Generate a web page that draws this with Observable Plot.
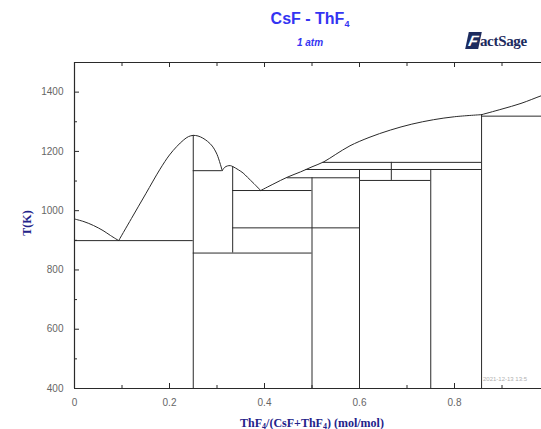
<!DOCTYPE html>
<html><head><meta charset="utf-8">
<script src="https://cdn.jsdelivr.net/npm/d3@7"></script>
<script src="https://cdn.jsdelivr.net/npm/@observablehq/plot@0.6"></script>
<style>
body{margin:0;background:#fff;width:541px;height:429px;overflow:hidden;position:relative;font-family:Arial,"Liberation Sans",sans-serif}
#chart{position:absolute;left:0;top:0}
.ov{position:absolute;white-space:nowrap}
#title{left:210px;width:200px;top:10px;text-align:center;font:bold 16px Arial,"Liberation Sans",sans-serif;color:#3434f2}
#title sub{font-size:9px;vertical-align:-3px}
#sub{left:210px;width:200px;top:37px;text-align:center;font:italic bold 10px Arial,"Liberation Sans",sans-serif;color:#3434f2}
#ylab{left:27px;top:223px;transform:translate(-50%,-50%) rotate(-90deg);font:bold 12px "Liberation Serif","Times New Roman",serif;color:#23238a}
#xlab{left:312px;top:423px;transform:translate(-50%,-50%);font:bold 12px "Liberation Serif","Times New Roman",serif;color:#23238a}
#xlab sub{font-size:8px;vertical-align:-2px}
#logo{left:467px;top:32px;font:bold 15px "Liberation Serif",serif;color:#1d2b5e;letter-spacing:-0.3px}
#logo .f{display:inline-block;background:#1d2b5e;color:#fff;padding:0 2px;transform:skewX(-12deg);font:bold italic 15px "Liberation Sans",sans-serif}
#stamp{left:483px;top:376px;font:6px Arial,sans-serif;color:#b0b0b0}
</style></head>
<body>
<div id="chart"></div>
<div class="ov" id="title">CsF - ThF<sub>4</sub></div>
<div class="ov" id="sub">1 atm</div>
<div class="ov" id="logo"><span class="f">F</span>actSage</div>
<div class="ov" id="ylab">T(K)</div>
<div class="ov" id="xlab">ThF<sub>4</sub>/(CsF+ThF<sub>4</sub>) (mol/mol)</div>
<div class="ov" id="stamp">2021-12-13 13:5</div>
<script>
// Liquidus branches (mole fraction ThF4, temperature K)
const branch1X = [0, 0.02, 0.04, 0.06, 0.076, 0.093];
const branch1T = [972, 963, 950, 933, 916, 899];
const branch2X = [0.093, 0.12, 0.15, 0.18, 0.2, 0.215, 0.23, 0.24, 0.25, 0.26, 0.27, 0.28, 0.29, 0.3, 0.311];
const branch2T = [899, 974, 1057, 1140, 1188, 1216, 1239, 1250, 1254, 1252, 1245, 1234, 1218, 1190, 1135];
const branch3X = [0.311, 0.316, 0.322, 0.328, 0.333, 0.345, 0.355, 0.364, 0.378, 0.392];
const branch3T = [1135, 1146, 1151, 1152, 1149, 1138, 1127, 1113, 1091, 1068];
const branch4X = [0.392, 0.42, 0.448, 0.476, 0.5, 0.525, 0.55, 0.58, 0.62, 0.665, 0.71, 0.756, 0.8, 0.857];
const branch4T = [1068, 1091, 1113, 1131, 1148, 1165, 1190, 1219, 1247, 1272, 1292, 1307, 1317, 1324];
const branch5X = [0.857, 0.9, 0.94, 0.983, 1.0];
const branch5T = [1324, 1343, 1362, 1388, 1397];

// Invariant (horizontal) lines
const invT  = [899, 1135, 857, 1068, 942, 1111, 1139, 1163, 1102, 1319];
const invX1 = [0, 0.25, 0.25, 0.333, 0.333, 0.448, 0.487, 0.523, 0.6, 0.857];
const invX2 = [0.25, 0.311, 0.5, 0.5, 0.6, 0.6, 0.857, 0.857, 0.75, 1];

// Compound (vertical) lines
const cmpX   = [0.25, 0.333, 0.5, 0.6, 0.667, 0.75, 0.857];
const cmpTop = [1254, 1149, 1111, 1139, 1163, 1139, 1324];
const cmpBot = [400, 857, 400, 400, 1102, 400, 400];

// Ticks (the label for 1 falls outside the visible picture)
const xMajor = [0, 0.2, 0.4, 0.6, 0.8, 1];
const xLabels = [0, 0.2, 0.4, 0.6, 0.8];
const xMinor = [0.1, 0.3, 0.5, 0.7, 0.9];
const yMajor = [400, 600, 800, 1000, 1200, 1400];
const yMinor = [500, 700, 900, 1100, 1300, 1500];

const branches = [[branch1X, branch1T], [branch2X, branch2T], [branch3X, branch3T], [branch4X, branch4T], [branch5X, branch5T]];
const liquidus = branches.flatMap(([xs, ts], b) => xs.map((x, i) => ({x, T: ts[i], b})));
const invariants = invT.map((T, i) => ({T, x1: invX1[i], x2: invX2[i]}));
const compounds = cmpX.map((x, i) => ({x, top: cmpTop[i], bot: cmpBot[i]}));

const ink = "#2a2a2a";
const chart = Plot.plot({
  width: 541, height: 429,
  marginLeft: 74, marginRight: 0, marginTop: 62, marginBottom: 41,
  x: {domain: [0, 1], range: [74, 549]},
  y: {domain: [400, 1500]},
  style: {fontFamily: 'Arial, "Liberation Sans", sans-serif', fontSize: "10px", color: "#666", background: "transparent"},
  marks: [
    Plot.axisX(xLabels, {anchor: "bottom", tickSize: 0, tickPadding: 10, tickFormat: d => String(d), label: null, fill: "#666"}),
    Plot.axisX(xMajor, {anchor: "bottom", tickSize: -5, fill: "none", label: null, stroke: ink}),
    Plot.axisX(xMinor, {anchor: "bottom", tickSize: -3, fill: "none", label: null, stroke: ink}),
    Plot.axisX(xMajor, {anchor: "top", tickSize: -4, fill: "none", label: null, stroke: ink}),
    Plot.axisX(xMinor, {anchor: "top", tickSize: -3, fill: "none", label: null, stroke: ink}),
    Plot.axisY(yMajor, {anchor: "left", tickSize: 0, tickPadding: 11, tickFormat: d => String(d), label: null, fill: "#666"}),
    Plot.axisY(yMajor, {anchor: "left", tickSize: -5, fill: "none", label: null, stroke: ink}),
    Plot.axisY(yMinor, {anchor: "left", tickSize: -3, fill: "none", label: null, stroke: ink}),
    Plot.ruleX([0], {stroke: ink, strokeWidth: 1.2}),
    Plot.ruleY([400, 1500], {stroke: ink, strokeWidth: 1.2}),
    Plot.ruleY(invariants, {y: "T", x1: "x1", x2: "x2", stroke: ink, strokeWidth: 1}),
    Plot.ruleX(compounds, {x: "x", y1: "bot", y2: "top", stroke: ink, strokeWidth: 1}),
    Plot.line(liquidus, {x: "x", y: "T", z: "b", curve: "catmull-rom", stroke: ink, strokeWidth: 1})
  ]
});
document.getElementById("chart").append(chart);
</script>
</body></html>
